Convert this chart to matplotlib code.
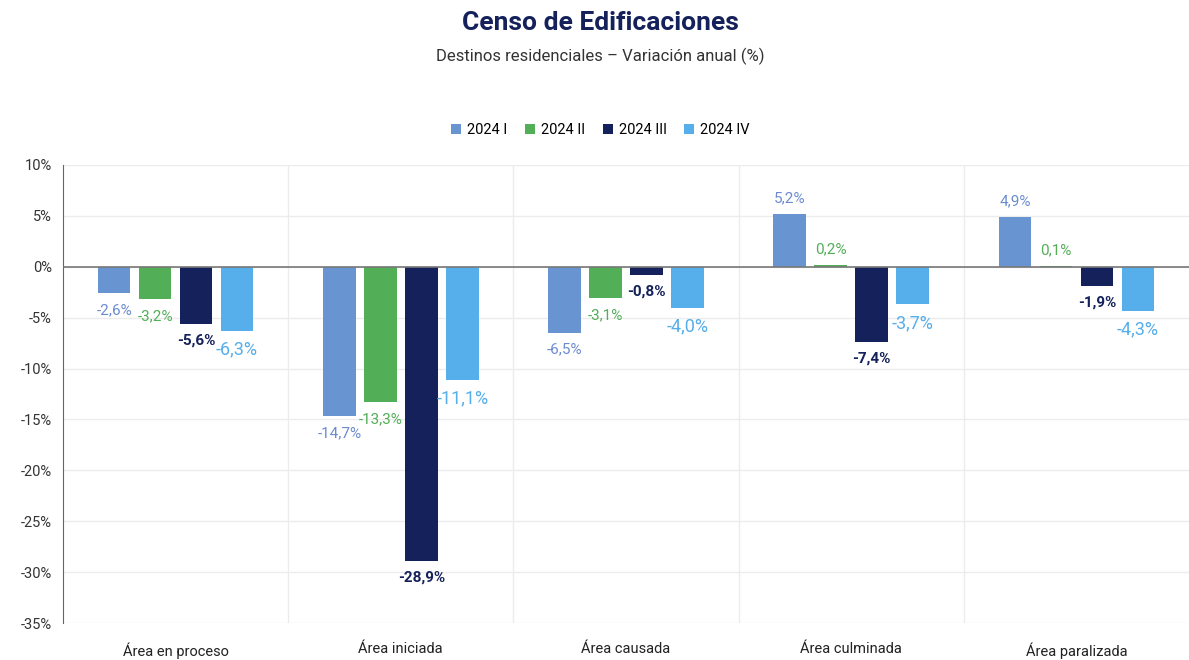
import matplotlib.pyplot as plt
import numpy as np

# Data
categories = ["Área en proceso", "Área iniciada", "Área causada", "Área culminada", "Área paralizada"]
series_names = ["2024 I", "2024 II", "2024 III", "2024 IV"]
s1 = [-2.6, -14.7, -6.5, 5.2, 4.9]
s2 = [-3.2, -13.3, -3.1, 0.2, 0.1]
s3 = [-5.6, -28.9, -0.8, -7.4, -1.9]
s4 = [-6.3, -11.1, -4.0, -3.7, -4.3]
values = [s1, s2, s3, s4]

bar_colors = ["#6895D2", "#52AE57", "#14215A", "#56AEEA"]
label_colors = ["#6B8BD0", "#52AE57", "#14215A", "#56AEEA"]
label_sizes = [11, 11, 11, 13]
label_weights = ["normal", "normal", "bold", "normal"]

plt.rcParams["font.family"] = ["Roboto", "DejaVu Sans"]

fig = plt.figure(figsize=(11.89, 6.6), dpi=100)
ax = fig.add_axes([0.053, 0.056, 0.947, 0.694])

x = np.arange(len(categories))
width = 0.145
step = 0.182
offsets = (np.arange(4) - 1.5) * step

for i, (name, vals) in enumerate(zip(series_names, values)):
    xs = x + offsets[i]
    ax.bar(xs, vals, width, color=bar_colors[i], label=name, zorder=3)
    for xv, v in zip(xs, vals):
        lbl = f"{v:.1f}%".replace(".", ",")
        if v >= 0:
            ax.annotate(lbl, (xv, v), xytext=(0, 6), textcoords="offset points",
                        ha="center", va="bottom", color=label_colors[i],
                        fontsize=label_sizes[i], fontweight=label_weights[i])
        else:
            ax.annotate(lbl, (xv, v), xytext=(0, -7), textcoords="offset points",
                        ha="center", va="top", color=label_colors[i],
                        fontsize=label_sizes[i], fontweight=label_weights[i])

ax.set_xlim(-0.5, len(categories) - 0.5)
ax.set_ylim(-35, 10)
ax.set_yticks(np.arange(-35, 11, 5))
ax.set_yticklabels([f"{t}%" for t in range(-35, 11, 5)], color="#333333", fontsize=10.5)
ax.set_xticks(x)
ax.set_xticklabels(categories, color="#222222", fontsize=10.5)
ax.tick_params(length=0, pad=8)
ax.tick_params(axis="x", pad=14)

ax.grid(axis="y", color="#ececec", linewidth=1, zorder=0)
for b in np.arange(0.5, len(categories) - 0.5, 1):
    ax.axvline(b, color="#ececec", linewidth=1, zorder=0)
ax.axhline(0, color="#777777", linewidth=1.2, zorder=4)

for side in ["top", "right", "bottom"]:
    ax.spines[side].set_visible(False)
ax.spines["left"].set_color("#666666")

fig.text(0.505, 0.965, "Censo de Edificaciones", ha="center", va="center",
         fontsize=19, fontweight="bold", color="#14215A")
fig.text(0.505, 0.915, "Destinos residenciales – Variación anual (%)", ha="center",
         va="center", fontsize=12, color="#333333")

fig.legend(loc="center", bbox_to_anchor=(0.505, 0.803), ncol=4, frameon=False,
           fontsize=10.5, handlelength=0.7, handleheight=0.7, columnspacing=1.2,
           handletextpad=0.4)

fig.savefig("out.png", dpi=100, facecolor="white")
